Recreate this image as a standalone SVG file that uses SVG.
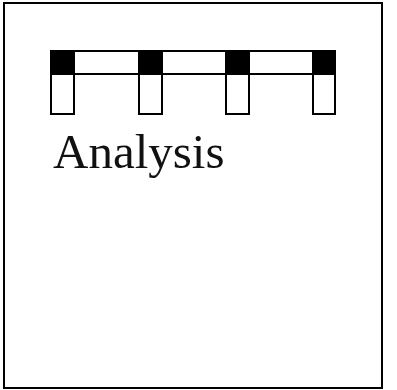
<svg xmlns="http://www.w3.org/2000/svg" width="397" height="390" viewBox="0 0 397 390">
<style>
.ln{fill:none;stroke:#000;stroke-width:2}
.blk{fill:#000;stroke:#000;stroke-width:2}
.box{fill:#fff;stroke:#000;stroke-width:2}
.t{font-family:"Liberation Serif",serif;font-size:49px;fill:#111}
</style>
<rect width="397" height="390" fill="#fff"/>
<g id="frame"><rect class="ln" x="4" y="3" width="378" height="385"/></g>
<g id="bar">
<rect class="box" x="51" y="51" width="284" height="23"/>
</g>
<g id="unit1"><rect class="blk" x="51" y="51" width="23" height="23"/><rect class="box" x="51" y="74" width="23" height="40"/></g>
<g id="unit2"><rect class="blk" x="139" y="51" width="23" height="23"/><rect class="box" x="139" y="74" width="23" height="40"/></g>
<g id="unit3"><rect class="blk" x="226" y="51" width="23" height="23"/><rect class="box" x="226" y="74" width="23" height="40"/></g>
<g id="unit4"><rect class="blk" x="313" y="51" width="22" height="23"/><rect class="box" x="313" y="74" width="22" height="40"/></g>
<g id="label"><text class="t" x="53" y="168">Analysis</text></g>
<g id="connectors"></g>
</svg>
